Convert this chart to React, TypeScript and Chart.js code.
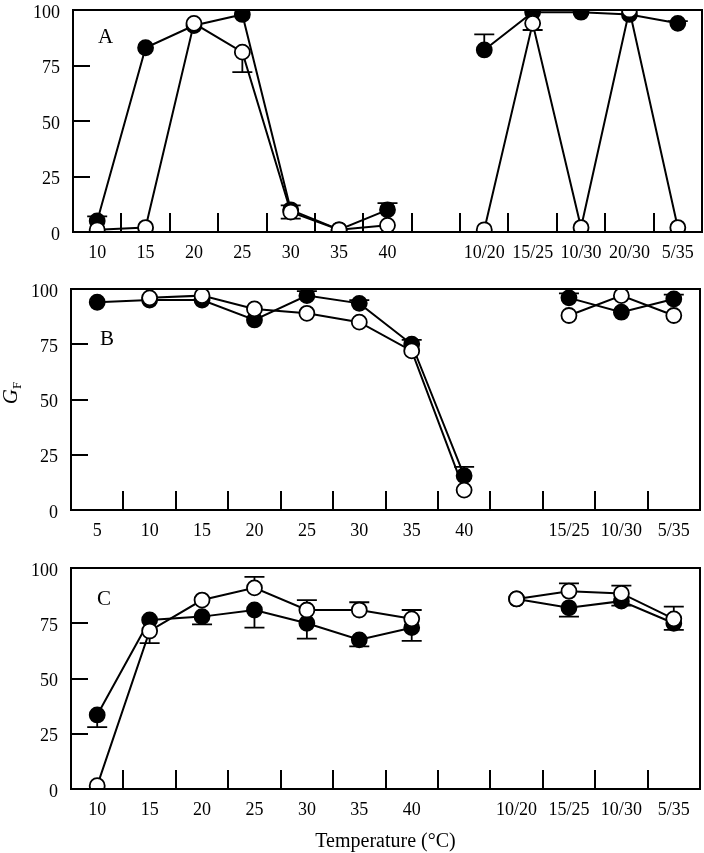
import React, { useEffect, useRef } from 'react';
import { Chart, registerables } from 'chart.js';

Chart.register(...registerables);

// ---------- Panel A ----------
const labelsA = ['10', '15', '20', '25', '30', '35', '40', '', '10/20', '15/25', '10/30', '20/30', '5/35'];
const filledA = [5, 83, 93, 98, 10, 1, 10, null, 82, 99, 99, 98, 94];
const openA = [1, 2, 94, 81, 9, 1, 3, null, 1, 94, 2, 100, 2];
const filledAErrUp = [2, 0, 0, 0, 0, 0, 3, 0, 7, 0, 0, 0, 1];
const filledAErrDown = [0, 0, 0, 0, 0, 0, 0, 0, 0, 0, 0, 0, 0];
const openAErrUp = [0, 0, 0, 0, 3, 0, 0, 0, 0, 0, 0, 0, 0];
const openAErrDown = [0, 0, 0, 9, 3, 0, 0, 0, 0, 3, 0, 0, 0];

// ---------- Panel B ----------
const labelsB = ['5', '10', '15', '20', '25', '30', '35', '40', '', '15/25', '10/30', '5/35'];
const filledB = [94, 95, 95, 86, 97, 93.5, 75, 15.5, null, 96, 89.5, 95.5];
const openB = [null, 96, 97, 91, 89, 85, 72, 9, null, 88, 97, 88];
const filledBErrUp = [0, 0, 0, 0, 2, 1.5, 2, 4, 0, 2, 0, 2];
const filledBErrDown = [0, 0, 0, 0, 0, 0, 0, 0, 0, 0, 0, 0];
const openBErrUp = [0, 0, 0, 0, 0, 0, 0, 0, 0, 0, 0, 0];
const openBErrDown = [0, 0, 0, 0, 0, 0, 0, 0, 0, 0, 0, 0];

// ---------- Panel C ----------
const labelsC = ['10', '15', '20', '25', '30', '35', '40', '', '10/20', '15/25', '10/30', '5/35'];
const filledC = [33.5, 76.5, 78, 81, 75, 67.5, 73, null, 86, 82, 85, 75];
const openC = [1.5, 71.5, 85.5, 91, 81, 81, 77, null, 86, 89.5, 88.5, 77];
const filledCErrUp = [0, 0, 0, 0, 0, 0, 0, 0, 0, 0, 0, 0];
const filledCErrDown = [5.5, 0, 3.5, 8, 7, 3, 6, 0, 0, 4, 2, 3];
const openCErrUp = [0, 0, 0, 5, 4.5, 3.5, 4, 0, 0, 3.5, 3.5, 5.5];
const openCErrDown = [0, 5.5, 0, 0, 0, 0, 0, 0, 0, 0, 0, 0];

const yTicks = [0, 25, 50, 75, 100];
const FONT = '"Liberation Serif", "Times New Roman", serif';

type PanelCfg = {
  letter: string;
  labels: string[];
  filled: (number | null)[];
  open: (number | null)[];
  filledUp: number[];
  filledDown: number[];
  openUp: number[];
  openDown: number[];
  top: number;
  height: number;
  areaLeft: number;
  areaRight: number;
  areaTop: number;
  areaBottom: number;
  letterX: number;
  letterY: number;
  yTitle?: boolean;
  xTitle?: boolean;
};

function makePlugin(cfg: PanelCfg) {
  return {
    id: 'panelDecor',
    beforeDatasetsDraw(chart: any) {
      const ctx = chart.ctx;
      const xs = chart.scales.x;
      const ys = chart.scales.y;
      ctx.save();
      ctx.strokeStyle = '#000';
      ctx.lineWidth = 1.8;
      const cap = 10;
      const series = [
        { v: cfg.filled, up: cfg.filledUp, down: cfg.filledDown },
        { v: cfg.open, up: cfg.openUp, down: cfg.openDown },
      ];
      for (const s of series) {
        s.v.forEach((val, i) => {
          if (val === null || val === undefined) return;
          const x = xs.getPixelForValue(i);
          const y0 = ys.getPixelForValue(val);
          const ends: number[] = [];
          if (s.up[i] > 0) ends.push(val + s.up[i]);
          if (s.down[i] > 0) ends.push(val - s.down[i]);
          for (const e of ends) {
            const y1 = ys.getPixelForValue(e);
            ctx.beginPath();
            ctx.moveTo(x, y0);
            ctx.lineTo(x, y1);
            ctx.moveTo(x - cap, y1);
            ctx.lineTo(x + cap, y1);
            ctx.stroke();
          }
        });
      }
      ctx.restore();
    },
    afterDraw(chart: any) {
      const ctx = chart.ctx;
      const a = chart.chartArea;
      const xs = chart.scales.x;
      const ys = chart.scales.y;
      ctx.save();
      ctx.strokeStyle = '#000';
      ctx.lineWidth = 2;
      ctx.strokeRect(a.left, a.top, a.right - a.left, a.bottom - a.top);
      ctx.beginPath();
      const n = cfg.labels.length;
      for (let i = 0; i < n - 1; i++) {
        const x = Math.round((xs.getPixelForValue(i) + xs.getPixelForValue(i + 1)) / 2);
        ctx.moveTo(x, a.bottom);
        ctx.lineTo(x, a.bottom - 19);
      }
      for (const v of [25, 50, 75]) {
        const y = Math.round(ys.getPixelForValue(v));
        ctx.moveTo(a.left, y);
        ctx.lineTo(a.left + 17, y);
      }
      ctx.stroke();
      ctx.fillStyle = '#000';
      ctx.font = `21px ${FONT}`;
      ctx.textAlign = 'left';
      ctx.textBaseline = 'alphabetic';
      ctx.fillText(cfg.letter, cfg.letterX, cfg.letterY);
      if (cfg.yTitle) {
        ctx.save();
        ctx.translate(17, 128);
        ctx.rotate(-Math.PI / 2);
        ctx.font = `italic 21px ${FONT}`;
        const gw = ctx.measureText('G').width;
        ctx.font = `13px ${FONT}`;
        const fw = ctx.measureText('F').width;
        const start = -(gw + fw) / 2;
        ctx.font = `italic 21px ${FONT}`;
        ctx.fillText('G', start, 0);
        ctx.font = `13px ${FONT}`;
        ctx.fillText('F', start + gw, 4);
        ctx.restore();
      }
      if (cfg.xTitle) {
        ctx.font = `20px ${FONT}`;
        ctx.textAlign = 'center';
        ctx.fillText('Temperature (\u00B0C)', (a.left + a.right) / 2, 307);
      }
      ctx.restore();
    },
  };
}

function buildConfig(cfg: PanelCfg): any {
  return {
    type: 'line',
    data: {
      labels: cfg.labels,
      datasets: [
        {
          label: 'open',
          data: cfg.open,
          borderColor: '#000',
          borderWidth: 2,
          backgroundColor: '#fff',
          pointBackgroundColor: '#fff',
          pointBorderColor: '#000',
          pointBorderWidth: 1.8,
          pointRadius: 7.5,
          pointHoverRadius: 7.5,
          spanGaps: false,
          tension: 0,
          fill: false,
        },
        {
          label: 'filled',
          data: cfg.filled,
          borderColor: '#000',
          borderWidth: 2,
          backgroundColor: '#000',
          pointBackgroundColor: '#000',
          pointBorderColor: '#000',
          pointBorderWidth: 1.8,
          pointRadius: 7.5,
          pointHoverRadius: 7.5,
          spanGaps: false,
          tension: 0,
          fill: false,
        },
      ],
    },
    options: {
      responsive: false,
      animation: false,
      devicePixelRatio: 1,
      events: [],
      layout: {
        autoPadding: false,
        padding: { top: cfg.areaTop, right: 704 - cfg.areaRight, left: 0, bottom: 0 },
      },
      plugins: {
        legend: { display: false },
        tooltip: { enabled: false },
        title: { display: false },
      },
      scales: {
        x: {
          type: 'category',
          offset: true,
          grid: { display: false, drawTicks: false },
          border: { display: false },
          ticks: {
            autoSkip: false,
            maxRotation: 0,
            minRotation: 0,
            padding: 10,
            color: '#000',
            font: { family: FONT, size: 18 },
          },
          afterFit: (s: any) => {
            s.height = cfg.height - cfg.areaBottom;
            s.paddingLeft = 0;
            s.paddingRight = 0;
          },
        },
        y: {
          min: 0,
          max: 100,
          grid: { display: false, drawTicks: false },
          border: { display: false },
          afterBuildTicks: (s: any) => {
            s.ticks = yTicks.map((v) => ({ value: v }));
          },
          ticks: {
            padding: 13,
            labelOffset: 3,
            color: '#000',
            font: { family: FONT, size: 18 },
          },
          afterFit: (s: any) => {
            s.width = cfg.areaLeft;
            s.paddingTop = 0;
            s.paddingBottom = 0;
          },
        },
      },
    },
    plugins: [makePlugin(cfg)],
  };
}

function Panel({ cfg }: { cfg: PanelCfg }) {
  const ref = useRef<HTMLCanvasElement>(null);
  useEffect(() => {
    const chart = new Chart(ref.current as HTMLCanvasElement, buildConfig(cfg));
    return () => chart.destroy();
  }, []);
  return (
    <canvas
      ref={ref}
      width={704}
      height={cfg.height}
      style={{ position: 'absolute', left: 0, top: cfg.top, width: 704, height: cfg.height, display: 'block' }}
    />
  );
}

const panels: PanelCfg[] = [
  {
    letter: 'A', labels: labelsA, filled: filledA, open: openA,
    filledUp: filledAErrUp, filledDown: filledAErrDown, openUp: openAErrUp, openDown: openAErrDown,
    top: 0, height: 270, areaLeft: 73, areaRight: 702, areaTop: 10, areaBottom: 232,
    letterX: 98, letterY: 43,
  },
  {
    letter: 'B', labels: labelsB, filled: filledB, open: openB,
    filledUp: filledBErrUp, filledDown: filledBErrDown, openUp: openBErrUp, openDown: openBErrDown,
    top: 265, height: 280, areaLeft: 71, areaRight: 700, areaTop: 24, areaBottom: 245,
    letterX: 100, letterY: 80, yTitle: true,
  },
  {
    letter: 'C', labels: labelsC, filled: filledC, open: openC,
    filledUp: filledCErrUp, filledDown: filledCErrDown, openUp: openCErrUp, openDown: openCErrDown,
    top: 540, height: 313, areaLeft: 71, areaRight: 700, areaTop: 28, areaBottom: 249,
    letterX: 97, letterY: 65, xTitle: true,
  },
];

export default function App() {
  return (
    <div style={{ position: 'absolute', left: 0, top: 0, width: 704, height: 853, background: '#fff' }}>
      {panels.map((p) => (
        <Panel key={p.letter} cfg={p} />
      ))}
    </div>
  );
}
